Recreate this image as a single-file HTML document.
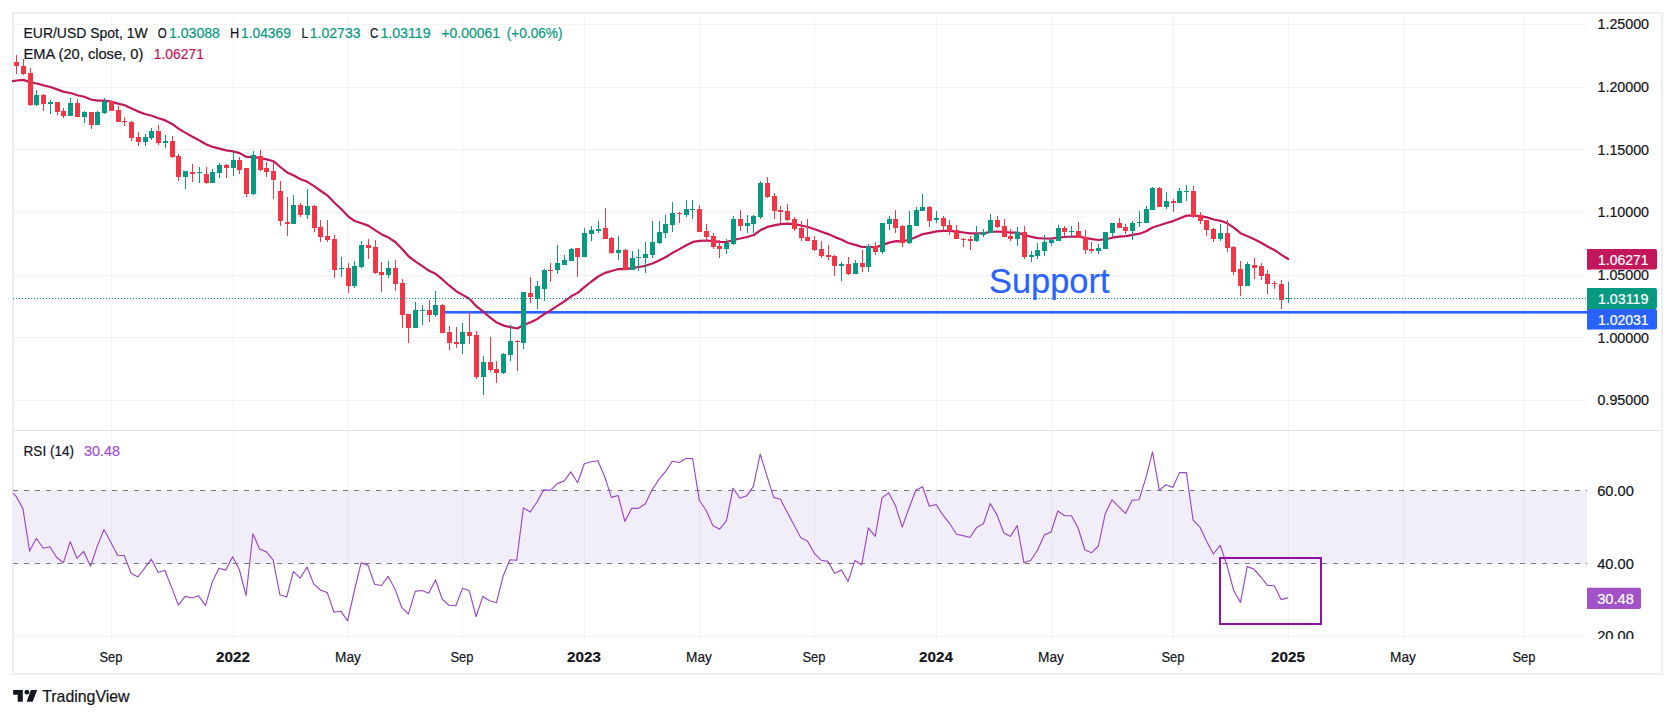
<!DOCTYPE html>
<html lang="en"><head><meta charset="utf-8"><title>EUR/USD Spot, 1W - TradingView</title>
<style>html,body{margin:0;padding:0;background:#fff}body{width:1675px;height:718px;overflow:hidden;position:relative}svg{display:block;position:absolute;left:0;top:0}text{font-family:"Liberation Sans",sans-serif;font-size:14.4px;fill:#131722;stroke:#131722;stroke-width:0.22px}</style></head><body>
<svg width="1675" height="718" viewBox="0 0 1675 718">
<rect x="0" y="0" width="1675" height="718" fill="#fff"/>
<rect x="14" y="490" width="1573" height="74" fill="#f2eef9"/>
<g shape-rendering="crispEdges"><rect x="111" y="14" width="1" height="416" fill="#2a2e39" fill-opacity="0.06"/><rect x="111" y="431" width="1" height="208" fill="#2a2e39" fill-opacity="0.06"/><rect x="233" y="14" width="1" height="416" fill="#2a2e39" fill-opacity="0.06"/><rect x="233" y="431" width="1" height="208" fill="#2a2e39" fill-opacity="0.06"/><rect x="348" y="14" width="1" height="416" fill="#2a2e39" fill-opacity="0.06"/><rect x="348" y="431" width="1" height="208" fill="#2a2e39" fill-opacity="0.06"/><rect x="462" y="14" width="1" height="416" fill="#2a2e39" fill-opacity="0.06"/><rect x="462" y="431" width="1" height="208" fill="#2a2e39" fill-opacity="0.06"/><rect x="584" y="14" width="1" height="416" fill="#2a2e39" fill-opacity="0.06"/><rect x="584" y="431" width="1" height="208" fill="#2a2e39" fill-opacity="0.06"/><rect x="699" y="14" width="1" height="416" fill="#2a2e39" fill-opacity="0.06"/><rect x="699" y="431" width="1" height="208" fill="#2a2e39" fill-opacity="0.06"/><rect x="814" y="14" width="1" height="416" fill="#2a2e39" fill-opacity="0.06"/><rect x="814" y="431" width="1" height="208" fill="#2a2e39" fill-opacity="0.06"/><rect x="936" y="14" width="1" height="416" fill="#2a2e39" fill-opacity="0.06"/><rect x="936" y="431" width="1" height="208" fill="#2a2e39" fill-opacity="0.06"/><rect x="1051" y="14" width="1" height="416" fill="#2a2e39" fill-opacity="0.06"/><rect x="1051" y="431" width="1" height="208" fill="#2a2e39" fill-opacity="0.06"/><rect x="1173" y="14" width="1" height="416" fill="#2a2e39" fill-opacity="0.06"/><rect x="1173" y="431" width="1" height="208" fill="#2a2e39" fill-opacity="0.06"/><rect x="1288" y="14" width="1" height="416" fill="#2a2e39" fill-opacity="0.06"/><rect x="1288" y="431" width="1" height="208" fill="#2a2e39" fill-opacity="0.06"/><rect x="1403" y="14" width="1" height="416" fill="#2a2e39" fill-opacity="0.06"/><rect x="1403" y="431" width="1" height="208" fill="#2a2e39" fill-opacity="0.06"/><rect x="1524" y="14" width="1" height="416" fill="#2a2e39" fill-opacity="0.06"/><rect x="1524" y="431" width="1" height="208" fill="#2a2e39" fill-opacity="0.06"/><rect x="14" y="24" width="1573" height="1" fill="#2a2e39" fill-opacity="0.06"/><rect x="14" y="87" width="1573" height="1" fill="#2a2e39" fill-opacity="0.06"/><rect x="14" y="149" width="1573" height="1" fill="#2a2e39" fill-opacity="0.06"/><rect x="14" y="212" width="1573" height="1" fill="#2a2e39" fill-opacity="0.06"/><rect x="14" y="275" width="1573" height="1" fill="#2a2e39" fill-opacity="0.06"/><rect x="14" y="337" width="1573" height="1" fill="#2a2e39" fill-opacity="0.06"/><rect x="14" y="400" width="1573" height="1" fill="#2a2e39" fill-opacity="0.06"/><rect x="14" y="636" width="1573" height="1" fill="#2a2e39" fill-opacity="0.06"/></g>
<rect x="14" y="430" width="1647" height="1" fill="#e0e3eb" shape-rendering="crispEdges"/>
<rect x="13" y="13" width="1649" height="661" fill="none" stroke="#eceef3" stroke-width="2" shape-rendering="crispEdges"/>
<g stroke="#787b86" stroke-width="1" stroke-dasharray="5 6" shape-rendering="crispEdges"><line x1="13" y1="490.5" x2="1587" y2="490.5"/><line x1="13" y1="563.5" x2="1587" y2="563.5"/></g>
<rect x="445" y="311" width="1142" height="2.6" fill="#2962ff"/>
<polyline fill="none" stroke="#c2185b" stroke-width="2.2" stroke-linejoin="round" stroke-linecap="round" points="13.0,81.2 16.5,80.5 23.3,79.9 30.0,82.3 36.8,83.5 43.6,85.4 50.3,87.0 57.1,89.4 63.9,91.9 70.6,93.0 77.4,95.2 84.1,96.8 90.9,99.5 97.7,100.7 104.4,100.7 111.2,101.6 118.0,103.6 124.7,105.3 131.5,108.4 138.3,111.6 145.0,114.0 151.8,115.7 158.6,118.2 165.3,120.4 172.1,123.9 178.8,128.9 185.6,132.9 192.4,136.8 199.1,140.2 205.9,144.2 212.7,146.9 219.4,148.6 226.2,150.4 233.0,151.4 239.7,153.1 246.5,157.0 253.3,156.8 260.0,158.1 266.8,159.4 273.6,161.3 280.3,167.0 287.1,172.4 293.8,175.5 300.6,179.3 307.4,181.8 314.1,186.2 320.9,191.0 327.7,195.7 334.4,202.7 341.2,209.0 348.0,216.3 354.7,221.0 361.5,223.3 368.3,225.6 375.0,230.1 381.8,234.4 388.5,237.6 395.3,242.0 402.1,248.9 408.8,256.5 415.6,261.6 422.4,266.1 429.1,270.8 435.9,274.1 442.7,279.7 449.4,285.7 456.2,291.2 463.0,295.1 469.7,299.0 476.5,306.4 483.3,311.7 490.0,317.3 496.8,322.6 503.5,325.6 510.3,327.1 517.1,328.5 523.8,325.0 530.6,322.3 537.4,318.9 544.1,314.2 550.9,310.1 557.7,305.6 564.4,301.3 571.2,296.3 578.0,292.6 584.7,286.9 591.5,281.5 598.2,276.5 605.0,272.9 611.8,271.0 618.5,269.0 625.3,269.1 632.1,268.1 638.8,267.0 645.6,265.8 652.4,263.5 659.1,260.5 665.9,257.0 672.7,252.8 679.4,249.1 686.2,245.3 693.0,241.9 699.7,240.9 706.5,240.5 713.2,241.1 720.0,241.9 726.8,242.0 733.5,239.8 740.3,238.5 747.1,237.0 753.8,235.0 760.6,230.1 767.4,226.9 774.1,225.4 780.9,224.1 787.7,223.7 794.4,224.2 801.2,225.5 807.9,227.0 814.7,229.2 821.5,231.7 828.2,234.1 835.0,237.1 841.8,239.7 848.5,243.0 855.3,244.9 862.1,247.0 868.8,246.9 875.6,247.4 882.4,245.1 889.1,242.6 895.9,241.2 902.6,241.3 909.4,239.8 916.2,236.9 922.9,234.1 929.7,232.8 936.5,231.4 943.2,230.9 950.0,230.9 956.8,231.7 963.5,232.5 970.3,233.3 977.1,233.3 983.8,233.2 990.6,232.0 997.4,231.5 1004.1,232.0 1010.9,232.6 1017.6,232.6 1024.4,234.9 1031.2,236.8 1037.9,238.1 1044.7,238.5 1051.5,238.6 1058.2,237.6 1065.0,237.0 1071.8,236.5 1078.5,236.6 1085.3,237.9 1092.1,239.1 1098.8,240.0 1105.6,239.2 1112.3,237.7 1119.1,236.7 1125.9,236.2 1132.6,234.9 1139.4,233.7 1146.2,231.3 1152.9,227.2 1159.7,225.3 1166.5,223.0 1173.2,221.1 1180.0,218.2 1186.8,215.6 1193.5,215.6 1200.3,216.1 1207.1,217.4 1213.8,219.5 1220.6,220.8 1227.3,223.3 1234.1,227.9 1240.9,233.4 1247.6,236.3 1254.4,239.3 1261.2,242.8 1267.9,246.7 1274.7,250.2 1281.5,254.9 1288.2,259.0"/>
<g fill="#089981" shape-rendering="crispEdges"><rect x="36" y="90" width="1" height="16"/><rect x="34" y="95" width="5" height="10"/><rect x="50" y="100" width="1" height="14"/><rect x="48" y="102" width="5" height="2"/><rect x="70" y="98" width="1" height="18"/><rect x="68" y="103" width="5" height="13"/><rect x="84" y="111" width="1" height="12"/><rect x="82" y="112" width="5" height="5"/><rect x="97" y="111" width="1" height="14"/><rect x="95" y="112" width="5" height="13"/><rect x="104" y="98" width="1" height="16"/><rect x="102" y="101" width="5" height="12"/><rect x="145" y="134" width="1" height="12"/><rect x="143" y="137" width="5" height="5"/><rect x="151" y="128" width="1" height="12"/><rect x="149" y="131" width="5" height="7"/><rect x="165" y="135" width="1" height="13"/><rect x="163" y="141" width="5" height="2"/><rect x="185" y="171" width="1" height="18"/><rect x="183" y="171" width="5" height="6"/><rect x="199" y="167" width="1" height="16"/><rect x="197" y="172" width="5" height="1"/><rect x="212" y="169" width="1" height="14"/><rect x="210" y="172" width="5" height="11"/><rect x="219" y="163" width="1" height="15"/><rect x="217" y="165" width="5" height="8"/><rect x="233" y="151" width="1" height="25"/><rect x="231" y="160" width="5" height="8"/><rect x="253" y="151" width="1" height="44"/><rect x="251" y="155" width="5" height="39"/><rect x="293" y="195" width="1" height="29"/><rect x="291" y="205" width="5" height="19"/><rect x="307" y="189" width="1" height="30"/><rect x="305" y="206" width="5" height="9"/><rect x="341" y="257" width="1" height="20"/><rect x="339" y="268" width="5" height="1"/><rect x="354" y="261" width="1" height="27"/><rect x="352" y="266" width="5" height="20"/><rect x="361" y="241" width="1" height="27"/><rect x="359" y="245" width="5" height="22"/><rect x="388" y="261" width="1" height="17"/><rect x="386" y="268" width="5" height="7"/><rect x="415" y="302" width="1" height="26"/><rect x="413" y="310" width="5" height="18"/><rect x="422" y="305" width="1" height="20"/><rect x="420" y="310" width="5" height="1"/><rect x="435" y="291" width="1" height="26"/><rect x="433" y="305" width="5" height="10"/><rect x="462" y="323" width="1" height="31"/><rect x="460" y="332" width="5" height="12"/><rect x="483" y="356" width="1" height="39"/><rect x="481" y="362" width="5" height="15"/><rect x="503" y="353" width="1" height="21"/><rect x="501" y="354" width="5" height="19"/><rect x="510" y="325" width="1" height="36"/><rect x="508" y="341" width="5" height="14"/><rect x="523" y="292" width="1" height="57"/><rect x="521" y="292" width="5" height="51"/><rect x="537" y="281" width="1" height="28"/><rect x="535" y="286" width="5" height="13"/><rect x="544" y="269" width="1" height="32"/><rect x="542" y="270" width="5" height="19"/><rect x="557" y="245" width="1" height="29"/><rect x="555" y="263" width="5" height="7"/><rect x="564" y="255" width="1" height="10"/><rect x="562" y="260" width="5" height="5"/><rect x="571" y="248" width="1" height="13"/><rect x="569" y="249" width="5" height="12"/><rect x="584" y="228" width="1" height="29"/><rect x="582" y="233" width="5" height="24"/><rect x="591" y="226" width="1" height="15"/><rect x="589" y="230" width="5" height="4"/><rect x="598" y="221" width="1" height="12"/><rect x="596" y="229" width="5" height="2"/><rect x="618" y="236" width="1" height="24"/><rect x="616" y="250" width="5" height="3"/><rect x="632" y="251" width="1" height="19"/><rect x="630" y="258" width="5" height="12"/><rect x="638" y="249" width="1" height="22"/><rect x="636" y="257" width="5" height="1"/><rect x="645" y="242" width="1" height="31"/><rect x="643" y="254" width="5" height="4"/><rect x="652" y="221" width="1" height="37"/><rect x="650" y="242" width="5" height="13"/><rect x="659" y="221" width="1" height="23"/><rect x="657" y="232" width="5" height="11"/><rect x="665" y="215" width="1" height="23"/><rect x="663" y="224" width="5" height="9"/><rect x="672" y="202" width="1" height="30"/><rect x="670" y="213" width="5" height="12"/><rect x="686" y="200" width="1" height="17"/><rect x="684" y="209" width="5" height="6"/><rect x="692" y="200" width="1" height="19"/><rect x="690" y="209" width="5" height="1"/><rect x="726" y="239" width="1" height="15"/><rect x="724" y="243" width="5" height="6"/><rect x="733" y="216" width="1" height="29"/><rect x="731" y="219" width="5" height="25"/><rect x="747" y="215" width="1" height="18"/><rect x="745" y="223" width="5" height="3"/><rect x="753" y="215" width="1" height="18"/><rect x="751" y="216" width="5" height="8"/><rect x="760" y="181" width="1" height="38"/><rect x="758" y="183" width="5" height="34"/><rect x="841" y="262" width="1" height="19"/><rect x="839" y="264" width="5" height="2"/><rect x="855" y="260" width="1" height="14"/><rect x="853" y="263" width="5" height="11"/><rect x="868" y="244" width="1" height="28"/><rect x="866" y="246" width="5" height="21"/><rect x="882" y="223" width="1" height="31"/><rect x="880" y="223" width="5" height="29"/><rect x="889" y="216" width="1" height="14"/><rect x="887" y="219" width="5" height="5"/><rect x="909" y="211" width="1" height="33"/><rect x="907" y="225" width="5" height="18"/><rect x="916" y="207" width="1" height="19"/><rect x="914" y="210" width="5" height="16"/><rect x="922" y="194" width="1" height="17"/><rect x="920" y="207" width="5" height="4"/><rect x="936" y="211" width="1" height="12"/><rect x="934" y="218" width="5" height="2"/><rect x="976" y="226" width="1" height="16"/><rect x="974" y="234" width="5" height="7"/><rect x="983" y="229" width="1" height="8"/><rect x="981" y="232" width="5" height="3"/><rect x="990" y="214" width="1" height="19"/><rect x="988" y="220" width="5" height="13"/><rect x="1017" y="227" width="1" height="19"/><rect x="1015" y="232" width="5" height="7"/><rect x="1031" y="251" width="1" height="11"/><rect x="1029" y="255" width="5" height="2"/><rect x="1037" y="243" width="1" height="16"/><rect x="1035" y="250" width="5" height="6"/><rect x="1044" y="235" width="1" height="21"/><rect x="1042" y="242" width="5" height="9"/><rect x="1051" y="238" width="1" height="8"/><rect x="1049" y="240" width="5" height="3"/><rect x="1058" y="225" width="1" height="16"/><rect x="1056" y="228" width="5" height="13"/><rect x="1071" y="226" width="1" height="12"/><rect x="1069" y="231" width="5" height="1"/><rect x="1098" y="244" width="1" height="10"/><rect x="1096" y="248" width="5" height="3"/><rect x="1105" y="232" width="1" height="17"/><rect x="1103" y="232" width="5" height="17"/><rect x="1112" y="223" width="1" height="14"/><rect x="1110" y="223" width="5" height="10"/><rect x="1132" y="221" width="1" height="19"/><rect x="1130" y="223" width="5" height="8"/><rect x="1139" y="211" width="1" height="16"/><rect x="1137" y="222" width="5" height="1"/><rect x="1146" y="206" width="1" height="17"/><rect x="1144" y="209" width="5" height="14"/><rect x="1152" y="187" width="1" height="23"/><rect x="1150" y="188" width="5" height="22"/><rect x="1166" y="192" width="1" height="17"/><rect x="1164" y="201" width="5" height="6"/><rect x="1179" y="188" width="1" height="15"/><rect x="1177" y="191" width="5" height="12"/><rect x="1186" y="185" width="1" height="16"/><rect x="1184" y="191" width="5" height="1"/><rect x="1220" y="224" width="1" height="17"/><rect x="1218" y="233" width="5" height="6"/><rect x="1247" y="262" width="1" height="24"/><rect x="1245" y="264" width="5" height="22"/><rect x="1288" y="282" width="1" height="21"/><rect x="1286" y="298" width="5" height="1"/></g>
<g fill="#f23645" shape-rendering="crispEdges"><rect x="16" y="55" width="1" height="19"/><rect x="14" y="62" width="5" height="4"/><rect x="23" y="59" width="1" height="16"/><rect x="21" y="66" width="5" height="8"/><rect x="30" y="68" width="1" height="38"/><rect x="28" y="73" width="5" height="32"/><rect x="43" y="94" width="1" height="17"/><rect x="41" y="95" width="5" height="9"/><rect x="57" y="102" width="1" height="13"/><rect x="55" y="102" width="5" height="10"/><rect x="63" y="108" width="1" height="10"/><rect x="61" y="111" width="5" height="5"/><rect x="77" y="99" width="1" height="18"/><rect x="75" y="103" width="5" height="14"/><rect x="91" y="112" width="1" height="17"/><rect x="89" y="112" width="5" height="13"/><rect x="111" y="101" width="1" height="10"/><rect x="109" y="101" width="5" height="10"/><rect x="118" y="106" width="1" height="16"/><rect x="116" y="110" width="5" height="12"/><rect x="124" y="117" width="1" height="9"/><rect x="122" y="121" width="5" height="1"/><rect x="131" y="121" width="1" height="20"/><rect x="129" y="122" width="5" height="16"/><rect x="138" y="132" width="1" height="14"/><rect x="136" y="137" width="5" height="5"/><rect x="158" y="125" width="1" height="20"/><rect x="156" y="131" width="5" height="12"/><rect x="172" y="136" width="1" height="22"/><rect x="170" y="141" width="5" height="16"/><rect x="178" y="154" width="1" height="27"/><rect x="176" y="156" width="5" height="21"/><rect x="192" y="164" width="1" height="18"/><rect x="190" y="172" width="5" height="2"/><rect x="206" y="167" width="1" height="17"/><rect x="204" y="174" width="5" height="9"/><rect x="226" y="164" width="1" height="14"/><rect x="224" y="165" width="5" height="3"/><rect x="239" y="157" width="1" height="17"/><rect x="237" y="160" width="5" height="10"/><rect x="246" y="168" width="1" height="29"/><rect x="244" y="168" width="5" height="26"/><rect x="260" y="150" width="1" height="21"/><rect x="258" y="156" width="5" height="14"/><rect x="266" y="162" width="1" height="15"/><rect x="264" y="168" width="5" height="4"/><rect x="273" y="162" width="1" height="37"/><rect x="271" y="171" width="5" height="9"/><rect x="280" y="181" width="1" height="45"/><rect x="278" y="191" width="5" height="30"/><rect x="287" y="197" width="1" height="39"/><rect x="285" y="222" width="5" height="2"/><rect x="300" y="203" width="1" height="14"/><rect x="298" y="205" width="5" height="10"/><rect x="314" y="205" width="1" height="27"/><rect x="312" y="206" width="5" height="22"/><rect x="320" y="220" width="1" height="22"/><rect x="318" y="227" width="5" height="10"/><rect x="327" y="220" width="1" height="22"/><rect x="325" y="236" width="5" height="4"/><rect x="334" y="235" width="1" height="43"/><rect x="332" y="239" width="5" height="31"/><rect x="348" y="263" width="1" height="30"/><rect x="346" y="268" width="5" height="18"/><rect x="368" y="239" width="1" height="20"/><rect x="366" y="245" width="5" height="3"/><rect x="375" y="240" width="1" height="34"/><rect x="373" y="247" width="5" height="26"/><rect x="381" y="262" width="1" height="30"/><rect x="379" y="272" width="5" height="3"/><rect x="395" y="260" width="1" height="31"/><rect x="393" y="268" width="5" height="16"/><rect x="402" y="279" width="1" height="49"/><rect x="400" y="283" width="5" height="32"/><rect x="408" y="314" width="1" height="29"/><rect x="406" y="314" width="5" height="14"/><rect x="429" y="300" width="1" height="22"/><rect x="427" y="310" width="5" height="5"/><rect x="442" y="304" width="1" height="29"/><rect x="440" y="305" width="5" height="28"/><rect x="449" y="326" width="1" height="24"/><rect x="447" y="332" width="5" height="11"/><rect x="456" y="327" width="1" height="21"/><rect x="454" y="342" width="5" height="2"/><rect x="469" y="312" width="1" height="32"/><rect x="467" y="332" width="5" height="4"/><rect x="476" y="331" width="1" height="48"/><rect x="474" y="335" width="5" height="42"/><rect x="490" y="337" width="1" height="35"/><rect x="488" y="362" width="5" height="8"/><rect x="496" y="361" width="1" height="22"/><rect x="494" y="369" width="5" height="4"/><rect x="517" y="340" width="1" height="31"/><rect x="515" y="341" width="5" height="1"/><rect x="530" y="277" width="1" height="26"/><rect x="528" y="293" width="5" height="4"/><rect x="550" y="263" width="1" height="19"/><rect x="548" y="270" width="5" height="1"/><rect x="577" y="248" width="1" height="29"/><rect x="575" y="248" width="5" height="9"/><rect x="605" y="208" width="1" height="31"/><rect x="603" y="228" width="5" height="11"/><rect x="611" y="237" width="1" height="17"/><rect x="609" y="238" width="5" height="15"/><rect x="625" y="249" width="1" height="21"/><rect x="623" y="250" width="5" height="20"/><rect x="679" y="212" width="1" height="11"/><rect x="677" y="213" width="5" height="1"/><rect x="699" y="205" width="1" height="27"/><rect x="697" y="209" width="5" height="23"/><rect x="706" y="224" width="1" height="18"/><rect x="704" y="231" width="5" height="6"/><rect x="713" y="233" width="1" height="16"/><rect x="711" y="236" width="5" height="11"/><rect x="719" y="240" width="1" height="18"/><rect x="717" y="246" width="5" height="3"/><rect x="740" y="210" width="1" height="21"/><rect x="738" y="219" width="5" height="7"/><rect x="767" y="177" width="1" height="21"/><rect x="765" y="183" width="5" height="14"/><rect x="774" y="193" width="1" height="26"/><rect x="772" y="196" width="5" height="15"/><rect x="780" y="206" width="1" height="17"/><rect x="778" y="210" width="5" height="2"/><rect x="787" y="204" width="1" height="17"/><rect x="785" y="211" width="5" height="9"/><rect x="794" y="217" width="1" height="14"/><rect x="792" y="219" width="5" height="10"/><rect x="801" y="221" width="1" height="20"/><rect x="799" y="228" width="5" height="10"/><rect x="807" y="219" width="1" height="22"/><rect x="805" y="237" width="5" height="4"/><rect x="814" y="236" width="1" height="15"/><rect x="812" y="240" width="5" height="10"/><rect x="821" y="241" width="1" height="17"/><rect x="819" y="249" width="5" height="7"/><rect x="828" y="245" width="1" height="15"/><rect x="826" y="255" width="5" height="2"/><rect x="834" y="255" width="1" height="21"/><rect x="832" y="256" width="5" height="10"/><rect x="848" y="257" width="1" height="18"/><rect x="846" y="264" width="5" height="10"/><rect x="862" y="250" width="1" height="22"/><rect x="860" y="263" width="5" height="4"/><rect x="875" y="242" width="1" height="13"/><rect x="873" y="246" width="5" height="6"/><rect x="895" y="210" width="1" height="23"/><rect x="893" y="219" width="5" height="9"/><rect x="902" y="225" width="1" height="22"/><rect x="900" y="226" width="5" height="17"/><rect x="929" y="206" width="1" height="21"/><rect x="927" y="207" width="5" height="14"/><rect x="943" y="216" width="1" height="15"/><rect x="941" y="218" width="5" height="8"/><rect x="949" y="220" width="1" height="15"/><rect x="947" y="225" width="5" height="6"/><rect x="956" y="225" width="1" height="14"/><rect x="954" y="230" width="5" height="9"/><rect x="963" y="238" width="1" height="9"/><rect x="961" y="239" width="5" height="1"/><rect x="970" y="236" width="1" height="14"/><rect x="968" y="239" width="5" height="2"/><rect x="997" y="216" width="1" height="12"/><rect x="995" y="220" width="5" height="7"/><rect x="1004" y="219" width="1" height="18"/><rect x="1002" y="226" width="5" height="11"/><rect x="1010" y="229" width="1" height="12"/><rect x="1008" y="236" width="5" height="3"/><rect x="1024" y="226" width="1" height="33"/><rect x="1022" y="232" width="5" height="25"/><rect x="1064" y="226" width="1" height="10"/><rect x="1062" y="228" width="5" height="4"/><rect x="1078" y="222" width="1" height="16"/><rect x="1076" y="231" width="5" height="7"/><rect x="1085" y="230" width="1" height="24"/><rect x="1083" y="237" width="5" height="13"/><rect x="1091" y="242" width="1" height="11"/><rect x="1089" y="249" width="5" height="2"/><rect x="1119" y="218" width="1" height="10"/><rect x="1117" y="223" width="5" height="5"/><rect x="1125" y="224" width="1" height="10"/><rect x="1123" y="227" width="5" height="4"/><rect x="1159" y="187" width="1" height="20"/><rect x="1157" y="188" width="5" height="19"/><rect x="1173" y="199" width="1" height="13"/><rect x="1171" y="201" width="5" height="2"/><rect x="1193" y="186" width="1" height="32"/><rect x="1191" y="191" width="5" height="25"/><rect x="1200" y="212" width="1" height="12"/><rect x="1198" y="215" width="5" height="6"/><rect x="1206" y="220" width="1" height="16"/><rect x="1204" y="220" width="5" height="10"/><rect x="1213" y="228" width="1" height="14"/><rect x="1211" y="229" width="5" height="10"/><rect x="1227" y="220" width="1" height="32"/><rect x="1225" y="233" width="5" height="15"/><rect x="1233" y="246" width="1" height="29"/><rect x="1231" y="247" width="5" height="25"/><rect x="1240" y="261" width="1" height="35"/><rect x="1238" y="269" width="5" height="17"/><rect x="1254" y="258" width="1" height="21"/><rect x="1252" y="265" width="5" height="3"/><rect x="1261" y="263" width="1" height="17"/><rect x="1259" y="266" width="5" height="10"/><rect x="1267" y="270" width="1" height="24"/><rect x="1265" y="274" width="5" height="10"/><rect x="1274" y="281" width="1" height="8"/><rect x="1272" y="283" width="5" height="1"/><rect x="1281" y="280" width="1" height="29"/><rect x="1279" y="284" width="5" height="16"/></g>
<line x1="13" y1="298.5" x2="1587" y2="298.5" stroke="#089981" stroke-width="1" stroke-dasharray="1 2" shape-rendering="crispEdges"/>
<polyline fill="none" stroke="#9a48c6" stroke-width="1.15" stroke-linejoin="round" points="13.1,493.1 16.1,496.3 22.9,508.6 29.6,551.1 36.4,538.3 43.2,548.3 49.9,546.8 56.7,557.5 63.5,562.7 70.2,541.7 77.0,558.3 83.7,551.4 90.5,566.2 97.3,546.1 104.0,529.5 110.8,542.3 117.6,555.2 124.3,555.6 131.1,573.3 137.9,577.0 144.6,568.2 151.4,559.2 158.2,572.5 164.9,570.2 171.7,587.6 178.4,605.2 185.2,596.4 192.0,598.0 198.7,595.8 205.5,605.6 212.3,582.0 219.0,568.2 225.8,570.1 232.6,556.7 239.3,569.5 246.1,595.5 252.9,533.8 259.6,549.0 266.4,551.9 273.2,560.1 279.9,594.8 286.7,597.0 293.4,571.3 300.2,578.2 307.0,567.0 313.7,583.9 320.5,590.0 327.3,592.6 334.0,612.3 340.8,611.2 347.6,620.9 354.3,591.0 361.1,562.9 367.9,565.1 374.6,584.2 381.4,585.5 388.1,576.3 394.9,588.9 401.7,607.3 408.4,614.2 415.2,591.4 422.0,590.5 428.7,593.3 435.5,579.9 442.3,599.2 449.0,605.2 455.8,605.8 462.6,588.3 469.3,590.8 476.1,616.5 482.9,596.4 489.6,600.8 496.4,602.7 503.1,576.3 509.9,559.8 516.7,560.3 523.4,507.9 530.2,512.1 537.0,502.0 543.7,489.9 550.5,490.4 557.3,483.6 564.0,481.1 570.8,471.9 577.6,482.8 584.3,463.8 591.1,461.7 597.8,460.7 604.6,476.3 611.4,497.4 618.1,495.5 624.9,521.5 631.7,508.3 638.4,508.3 645.2,503.9 652.0,490.1 658.7,479.7 665.5,471.6 672.3,461.3 679.0,462.5 685.8,458.5 692.6,458.5 699.3,500.2 706.1,510.2 712.8,525.6 719.6,529.2 726.4,520.8 733.1,488.2 739.9,498.3 746.7,495.8 753.4,486.4 760.2,454.0 767.0,476.1 773.7,497.4 780.5,499.3 787.3,512.6 794.0,525.0 800.8,537.8 807.5,541.1 814.3,553.3 821.1,560.2 827.8,561.4 834.6,573.3 841.4,569.9 848.1,581.5 854.9,560.4 861.7,564.8 868.4,527.8 875.2,536.4 882.0,497.9 888.7,492.8 895.5,505.7 902.2,527.1 909.0,508.2 915.8,490.3 922.5,486.7 929.3,506.3 936.1,504.5 942.8,514.9 949.6,523.3 956.4,534.3 963.1,535.6 969.9,537.5 976.7,527.4 983.4,523.7 990.2,503.6 997.0,514.9 1003.7,532.7 1010.5,536.4 1017.2,525.5 1024.0,562.8 1030.8,560.3 1037.5,550.2 1044.3,534.9 1051.1,532.0 1057.8,511.0 1064.6,515.7 1071.4,515.7 1078.1,528.0 1084.9,550.0 1091.7,552.7 1098.4,546.0 1105.2,513.8 1111.9,499.9 1118.7,506.6 1125.5,513.4 1132.2,500.3 1139.0,499.8 1145.8,478.2 1152.5,451.9 1159.3,490.1 1166.1,484.7 1172.8,487.4 1179.6,472.6 1186.4,472.6 1193.1,520.2 1199.9,527.1 1206.7,541.5 1213.4,554.0 1220.2,545.3 1226.9,565.1 1233.7,590.5 1240.5,602.4 1247.2,566.6 1254.0,569.1 1260.8,577.0 1267.5,585.4 1274.3,585.8 1281.1,599.6 1287.8,597.9"/>
<rect x="1220" y="558" width="101" height="66" fill="none" stroke="#8e12a8" stroke-width="2"/>
<text x="989" y="292.6" style="font-size:35.7px;fill:#2962ff;stroke:#2962ff" textLength="120.5" lengthAdjust="spacingAndGlyphs">Support</text>
<text x="23.5" y="37.7" textLength="124.1" lengthAdjust="spacingAndGlyphs">EUR/USD Spot, 1W</text>
<text x="157.7" y="37.7" textLength="9" lengthAdjust="spacingAndGlyphs">O</text>
<text x="168.9" y="37.7" textLength="51.1" lengthAdjust="spacingAndGlyphs" style="fill:#089981;stroke:#089981;">1.03088</text>
<text x="229.9" y="37.7" textLength="9.2" lengthAdjust="spacingAndGlyphs">H</text>
<text x="241.1" y="37.7" textLength="49.7" lengthAdjust="spacingAndGlyphs" style="fill:#089981;stroke:#089981;">1.04369</text>
<text x="301.6" y="37.7" textLength="6.6" lengthAdjust="spacingAndGlyphs">L</text>
<text x="309.8" y="37.7" textLength="50.7" lengthAdjust="spacingAndGlyphs" style="fill:#089981;stroke:#089981;">1.02733</text>
<text x="370" y="37.7" textLength="8.3" lengthAdjust="spacingAndGlyphs">C</text>
<text x="380.4" y="37.7" textLength="50.2" lengthAdjust="spacingAndGlyphs" style="fill:#089981;stroke:#089981;">1.03119</text>
<text x="441.4" y="37.7" textLength="58.5" lengthAdjust="spacingAndGlyphs" style="fill:#089981;stroke:#089981;">+0.00061</text>
<text x="506.8" y="37.7" textLength="55.7" lengthAdjust="spacingAndGlyphs" style="fill:#089981;stroke:#089981;">(+0.06%)</text>
<text x="23.5" y="59.2" textLength="119.8" lengthAdjust="spacingAndGlyphs">EMA (20, close, 0)</text>
<text x="153.7" y="59.2" textLength="50.2" lengthAdjust="spacingAndGlyphs" style="fill:#c2185b;stroke:#c2185b;">1.06271</text>
<text x="23.6" y="455.6" textLength="50.4" lengthAdjust="spacingAndGlyphs">RSI (14)</text>
<text x="84" y="455.6" textLength="36" lengthAdjust="spacingAndGlyphs" style="fill:#a14fc6;stroke:#a14fc6;">30.48</text>
<text x="1597.5" y="29.3" textLength="51.5" lengthAdjust="spacingAndGlyphs">1.25000</text>
<text x="1597.5" y="92.0" textLength="51.5" lengthAdjust="spacingAndGlyphs">1.20000</text>
<text x="1597.5" y="154.60000000000002" textLength="51.5" lengthAdjust="spacingAndGlyphs">1.15000</text>
<text x="1597.5" y="217.3" textLength="51.5" lengthAdjust="spacingAndGlyphs">1.10000</text>
<text x="1597.5" y="280.0" textLength="51.5" lengthAdjust="spacingAndGlyphs">1.05000</text>
<text x="1597.5" y="342.6" textLength="51.5" lengthAdjust="spacingAndGlyphs">1.00000</text>
<text x="1597.5" y="405.3" textLength="51.5" lengthAdjust="spacingAndGlyphs">0.95000</text>
<text x="1597.2" y="495.7" textLength="36.6" lengthAdjust="spacingAndGlyphs">60.00</text>
<text x="1597.2" y="568.8" textLength="36.6" lengthAdjust="spacingAndGlyphs">40.00</text>
<clipPath id="cp"><rect x="1587" y="620" width="74" height="19"/></clipPath>
<g clip-path="url(#cp)"><text x="1597.2" y="641.0" textLength="36.6" lengthAdjust="spacingAndGlyphs">20.00</text></g>
<rect x="1587" y="249" width="4" height="20.5" fill="#c2185b"/><rect x="1587" y="249" width="70" height="20.5" rx="2" ry="2" fill="#c2185b"/><text x="1598" y="264.85" textLength="50.4" lengthAdjust="spacingAndGlyphs" style="fill:#fff;stroke:#fff;">1.06271</text>
<rect x="1587" y="288" width="4" height="21" fill="#089981"/><rect x="1587" y="288" width="70" height="21" rx="2" ry="2" fill="#089981"/><text x="1598" y="304.1" textLength="50.4" lengthAdjust="spacingAndGlyphs" style="fill:#fff;stroke:#fff;">1.03119</text>
<rect x="1587" y="309" width="4" height="20.5" fill="#2962ff"/><rect x="1587" y="309" width="70" height="20.5" rx="2" ry="2" fill="#2962ff"/><text x="1598" y="324.85" textLength="50.4" lengthAdjust="spacingAndGlyphs" style="fill:#fff;stroke:#fff;">1.02031</text>
<rect x="1587" y="587.8" width="4" height="21.2" fill="#a251c6"/><rect x="1587" y="587.8" width="54" height="21.2" rx="2" ry="2" fill="#a251c6"/><text x="1597.2" y="604.0" textLength="36.6" lengthAdjust="spacingAndGlyphs" style="fill:#fff;stroke:#fff;">30.48</text>
<text x="99.5" y="661.8" textLength="23" lengthAdjust="spacingAndGlyphs" style="font-size:15.4px;">Sep</text>
<text x="216.1" y="661.8" textLength="33.8" lengthAdjust="spacingAndGlyphs" style="font-size:15.4px;font-weight:bold;">2022</text>
<text x="335.1" y="661.8" textLength="25.8" lengthAdjust="spacingAndGlyphs" style="font-size:15.4px;">May</text>
<text x="450.5" y="661.8" textLength="23" lengthAdjust="spacingAndGlyphs" style="font-size:15.4px;">Sep</text>
<text x="567.1" y="661.8" textLength="33.8" lengthAdjust="spacingAndGlyphs" style="font-size:15.4px;font-weight:bold;">2023</text>
<text x="686.1" y="661.8" textLength="25.8" lengthAdjust="spacingAndGlyphs" style="font-size:15.4px;">May</text>
<text x="802.5" y="661.8" textLength="23" lengthAdjust="spacingAndGlyphs" style="font-size:15.4px;">Sep</text>
<text x="919.1" y="661.8" textLength="33.8" lengthAdjust="spacingAndGlyphs" style="font-size:15.4px;font-weight:bold;">2024</text>
<text x="1038.1" y="661.8" textLength="25.8" lengthAdjust="spacingAndGlyphs" style="font-size:15.4px;">May</text>
<text x="1161.5" y="661.8" textLength="23" lengthAdjust="spacingAndGlyphs" style="font-size:15.4px;">Sep</text>
<text x="1271.1" y="661.8" textLength="33.8" lengthAdjust="spacingAndGlyphs" style="font-size:15.4px;font-weight:bold;">2025</text>
<text x="1390.1" y="661.8" textLength="25.8" lengthAdjust="spacingAndGlyphs" style="font-size:15.4px;">May</text>
<text x="1512.5" y="661.8" textLength="23" lengthAdjust="spacingAndGlyphs" style="font-size:15.4px;">Sep</text>
<g fill="#131722"><path d="M13.1 689.9H22.8V701.8H17.7V694.7H13.1Z"/><circle cx="26.9" cy="692.2" r="2.4"/><path d="M30.9 689.9H37.2L32.6 701.8H26.6Z"/></g>
<text x="42.2" y="701.8" textLength="87.4" lengthAdjust="spacingAndGlyphs" style="font-size:16.2px;">TradingView</text>
</svg></body></html>
